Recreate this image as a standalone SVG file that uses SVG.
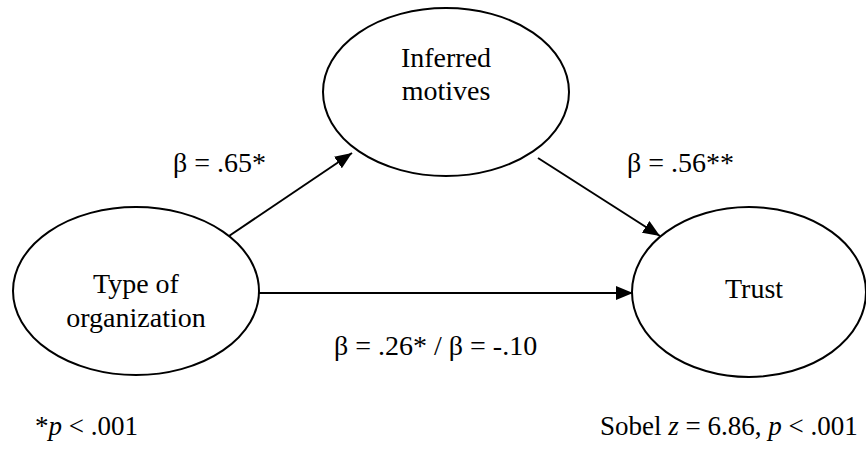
<svg xmlns="http://www.w3.org/2000/svg" width="866" height="451" viewBox="0 0 866 451">
<style>
.node{fill:#fff;stroke:#000;stroke-width:2}
.t{font-family:"Liberation Serif","Times New Roman",serif;font-size:28px;fill:#000}
.f{font-size:27px}
.m{text-anchor:middle}
.c{stroke:#000;stroke-width:2;fill:none;marker-end:url(#ah)}
</style>
<defs>
<marker id="ah" markerUnits="userSpaceOnUse" markerWidth="18" markerHeight="14" refX="17" refY="7" orient="auto">
<path d="M0,0 L17,7 L0,14 Z" fill="#000"/>
</marker>
</defs>
<rect width="866" height="451" fill="#fff"/>
<g id="connectors">
<line class="c" x1="229" y1="236" x2="352" y2="153"/>
<line class="c" x1="538" y1="158" x2="660" y2="236"/>
<line class="c" x1="259" y1="293" x2="633" y2="293"/>
</g>
<g id="inferred">
<ellipse class="node" cx="446" cy="92" rx="123" ry="84"/>
<text class="t m" x="446" y="67">Inferred</text>
<text class="t m" x="446" y="100">motives</text>
</g>
<g id="type">
<ellipse class="node" cx="136" cy="291" rx="123" ry="84"/>
<text class="t m" x="136" y="293">Type of</text>
<text class="t m" x="136" y="327">organization</text>
</g>
<g id="trust">
<ellipse class="node" cx="749" cy="292" rx="117" ry="85"/>
<text class="t m" x="754" y="298">Trust</text>
</g>
<g id="labels">
<text class="t" x="173" y="172">β = .65*</text>
<text class="t" x="627" y="172">β = .56**</text>
<text class="t" x="334" y="355">β = .26* / β = -.10</text>
<text class="t f" x="35" y="435">*<tspan font-style="italic">p</tspan> &lt; .001</text>
<text class="t f" x="600" y="435">Sobel <tspan font-style="italic">z</tspan> = 6.86, <tspan font-style="italic">p</tspan> &lt; .001</text>
</g>
</svg>
